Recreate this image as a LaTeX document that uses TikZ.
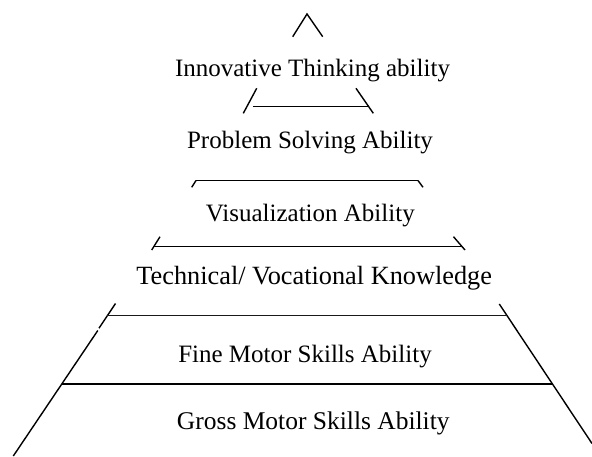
\documentclass[tikz,border=0pt]{standalone}
\usepackage{fontspec}
\setmainfont{Liberation Serif}
\begin{document}
\begin{tikzpicture}[x=1pt,y=-1pt,
  lbl/.style={anchor=base,inner sep=0pt,font=\fontsize{25}{30}\selectfont},
  edge/.style={line width=1.4pt,line cap=butt},
  thin/.style={line width=1.1pt},
  thick/.style={line width=2pt}]
\useasboundingbox (0,0) rectangle (592,456);
% texts
\node[lbl] (t1) at (312.5,76) {Innovative Thinking ability};
\node[lbl] (t2) at (310,148.3) {Problem Solving Ability};
\node[lbl] (t3) at (310.3,221.7) {Visualization Ability};
\node[lbl,font=\fontsize{26.3}{31}\selectfont] (t4) at (314.2,284) {Technical/ Vocational Knowledge};
\node[lbl] (t5) at (305,362.7) {Fine Motor Skills Ability};
\node[lbl,font=\fontsize{25.5}{30}\selectfont] (t6) at (313.3,429.3) {Gross Motor Skills Ability};
% apex
\draw[edge] (292.7,36.7) -- (307,14) -- (322.7,36.7);
% level 2
\draw[edge] (256.7,88.3) -- (243.3,113.3);
\draw[thin] (253.3,106.7) -- (368.3,106.7);
\draw[edge] (356,88.3) -- (373.3,113.3);
% level 3
\draw[edge] (196,180.5) -- (191.7,187.3);
\draw[thin] (196,180.5) -- (418,180.5);
\draw[edge] (418,180.5) -- (423,187.3);
% level 4
\draw[edge] (160,236.7) -- (151.7,250);
\draw[thin] (153,246.5) -- (462,246.5);
\draw[edge] (453.5,236.7) -- (465,250);
% level 5 / 6 sides
\draw[edge] (115.5,303.5) -- (99,328.2);
\draw[edge] (97.8,330.5) -- (13.3,456);
\draw[edge] (499.3,304) -- (592,443.5);
\draw[line width=1.6pt,black!90] (107,315.6) -- (506.8,315.6);
\draw[thin] (62,384) -- (553,384);
\draw[thick] (62,384) -- (98,384);
\draw[thick] (513,384) -- (553,384);
\end{tikzpicture}
\end{document}
